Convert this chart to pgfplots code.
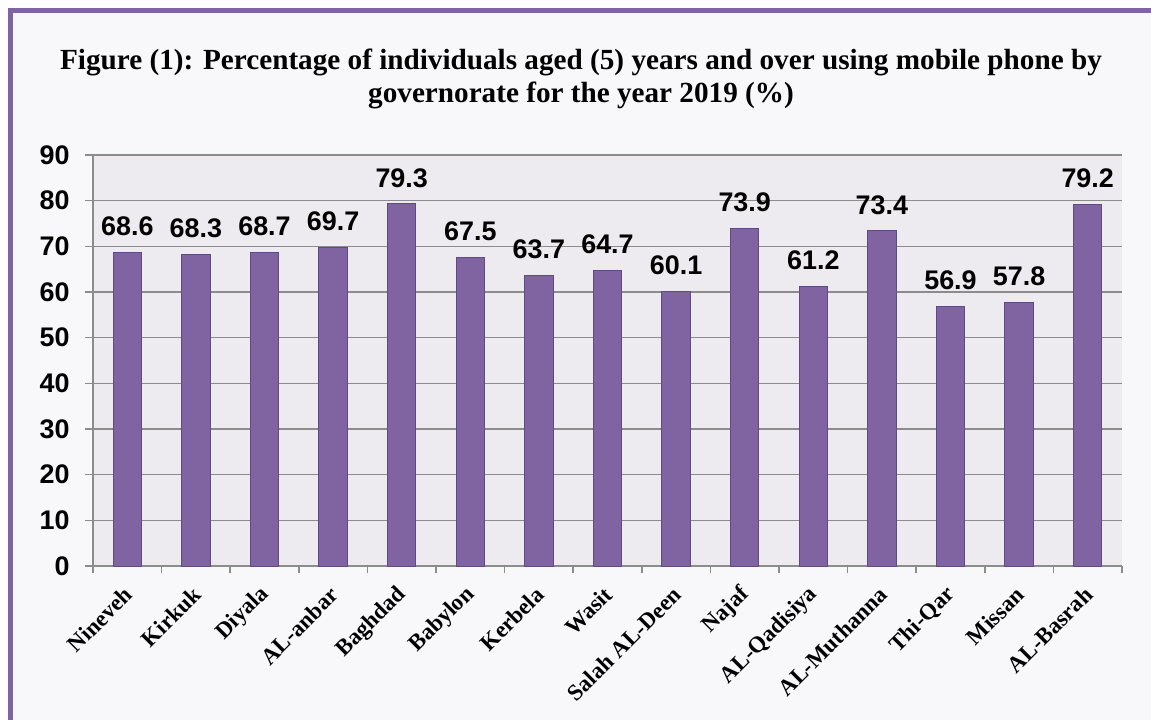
\documentclass[border=0pt]{standalone}
\usepackage{pgfplots}
\pgfplotsset{compat=1.18}
\usepackage{fontspec}
\setmainfont{Liberation Serif}
\newfontfamily\arial{Liberation Sans}
\definecolor{barfill}{HTML}{8064A2}
\definecolor{baredge}{HTML}{5F4A85}
\definecolor{plotbg}{HTML}{EDEBF0}
\definecolor{outerbg}{HTML}{F8F8FA}
\definecolor{gridc}{HTML}{8C8C8C}
\begin{document}
\begin{tikzpicture}
\path[use as bounding box, fill=white] (0bp,0bp) rectangle (1151bp,-720bp);
\fill[outerbg] (10bp,-11bp) rectangle (1151bp,-720bp);
\draw[barfill, line width=5bp] (10bp,-720bp) -- (10bp,-10.5bp) -- (1151bp,-10.5bp);
\node[align=center, font=\bfseries\fontsize{29.3}{34}\selectfont] at (581bp,-79bp)
  {Figure (1): Percentage of individuals aged (5) years and over using mobile phone by\\governorate for the year 2019 (\%)};
\begin{axis}[
  at={(93bp,-566bp)}, anchor=south west,
  scale only axis, width=1029bp, height=411bp,
  xmin=-0.5, xmax=14.5, ymin=0, ymax=90,
  ytick={0,10,...,90},
  xtick={0,...,14},
  xticklabels={Nineveh,Kirkuk,Diyala,AL-anbar,Baghdad,Babylon,Kerbela,Wasit,Salah AL-Deen,Najaf,AL-Qadisiya,AL-Muthanna,Thi-Qar,Missan,AL-Basrah},
  minor xtick={-0.5,0.5,...,14.5},
  major x tick style={draw=none},
  minor x tick style={draw=gridc, line width=1.5bp},
  y tick style={draw=gridc, line width=1.5bp},
  tick align=outside,
  major tick length=8bp, minor tick length=7bp,
  axis x line*=bottom, axis y line*=left,
  axis line style={gridc, line width=1.5bp},
  ymajorgrids, major grid style={gridc, line width=1.5bp},
  axis background/.style={fill=plotbg},
  ybar, bar width=0.415,
  nodes near coords={\pgfmathprintnumber[fixed, precision=1, fixed zerofill, assume math mode=true]{\pgfplotspointmeta}},
  nodes near coords style={font=\arial\bfseries\fontsize{27}{27}\selectfont, anchor=south, inner sep=0pt, yshift=16bp, text=black},
  yticklabel style={font=\arial\bfseries\fontsize{27}{27}\selectfont, text=black, xshift=-12bp, /pgf/number format/assume math mode=true},
  xticklabel style={font=\bfseries\fontsize{23}{23}\selectfont, inner sep=0pt, xshift=1bp, yshift=-17bp, rotate=45, anchor=east, text=black},
]
\addplot[fill=barfill, draw=baredge, line width=1bp] coordinates {
(0,68.6) (1,68.3) (2,68.7) (3,69.7) (4,79.3) (5,67.5) (6,63.7) (7,64.7)
(8,60.1) (9,73.9) (10,61.2) (11,73.4) (12,56.9) (13,57.8) (14,79.2)};
\end{axis}
\end{tikzpicture}
\end{document}
